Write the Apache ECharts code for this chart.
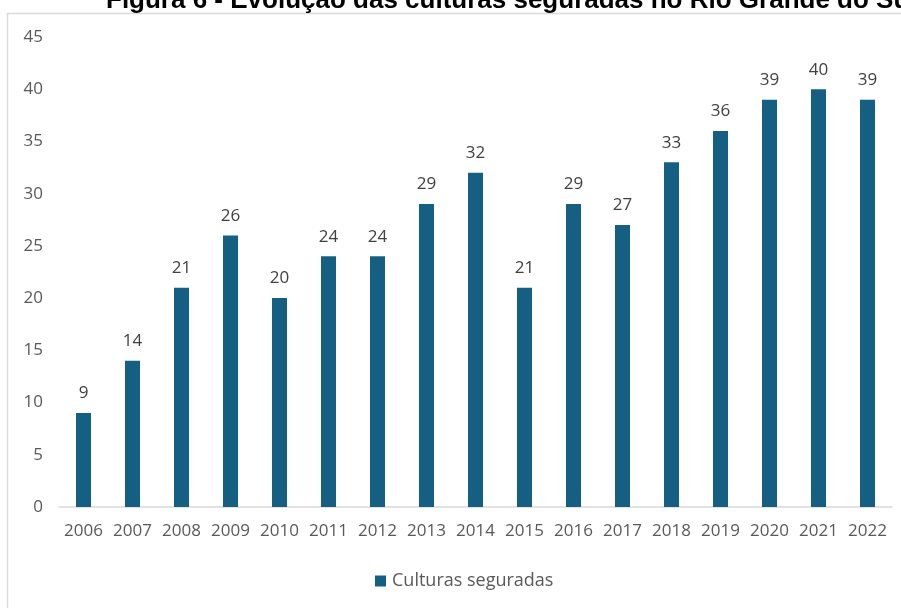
<!DOCTYPE html>
<html>
<head>
<meta charset="utf-8">
<script src="https://cdn.jsdelivr.net/npm/echarts@6/dist/echarts.min.js"></script>
<style>
html, body { margin: 0; padding: 0; background: #fff; }
#main { width: 901px; height: 608px; }
</style>
</head>
<body>
<div id="main"></div>
<script>
var years = ['2006', '2007', '2008', '2009', '2010', '2011', '2012', '2013', '2014',
             '2015', '2016', '2017', '2018', '2019', '2020', '2021', '2022'];
var culturas = [9, 14, 21, 26, 20, 24, 24, 29, 32, 21, 29, 27, 33, 36, 39, 40, 39];
var seriesName = 'Culturas seguradas';
var titleText = 'Figura 6 - Evolução das culturas seguradas no Rio Grande do Sul';

var dom = document.getElementById('main');
var myChart = echarts.init(dom);
var option = {
    backgroundColor: '#fff',
    animation: false,
    title: {
        text: titleText,
        left: 101,
        top: -17,
        textStyle: {
            fontFamily: 'Liberation Sans',
            fontWeight: 'bold',
            fontSize: 26,
            color: '#000'
        }
    },
    graphic: [
        {
            type: 'rect',
            shape: { x: 7.5, y: 13.5, width: 910, height: 610 },
            style: { fill: null, stroke: '#d9d9d9', lineWidth: 1.5 },
            z: -1
        }
    ],
    grid: {
        left: 59,
        right: 9,
        top: 37,
        bottom: 101
    },
    legend: {
        bottom: 13,
        left: 370,
        itemWidth: 11,
        itemHeight: 11,
        itemGap: 5,
        icon: 'rect',
        textStyle: {
            fontFamily: 'Open Sans',
            fontSize: 18,
            color: '#595959',
            padding: [0, 0, 0, 1]
        },
        data: [seriesName]
    },
    xAxis: {
        type: 'category',
        data: years,
        axisLine: { lineStyle: { color: '#d9d9d9', width: 1.5 } },
        axisTick: { show: false },
        axisLabel: {
            fontFamily: 'Open Sans',
            fontSize: 17,
            color: '#595959',
            margin: 16,
            interval: 0
        }
    },
    yAxis: {
        type: 'value',
        min: 0,
        max: 45,
        interval: 5,
        splitLine: { show: false },
        axisLine: { show: false },
        axisTick: { show: false },
        axisLabel: {
            fontFamily: 'Open Sans',
            fontSize: 17,
            color: '#595959',
            margin: 16
        }
    },
    series: [
        {
            name: seriesName,
            type: 'bar',
            data: culturas,
            barWidth: 15,
            itemStyle: { color: '#156082' },
            label: {
                show: true,
                position: 'top',
                distance: 11,
                fontFamily: 'Open Sans',
                fontSize: 17,
                color: '#404040'
            }
        }
    ]
};
myChart.setOption(option, true);
</script>
</body>
</html>
